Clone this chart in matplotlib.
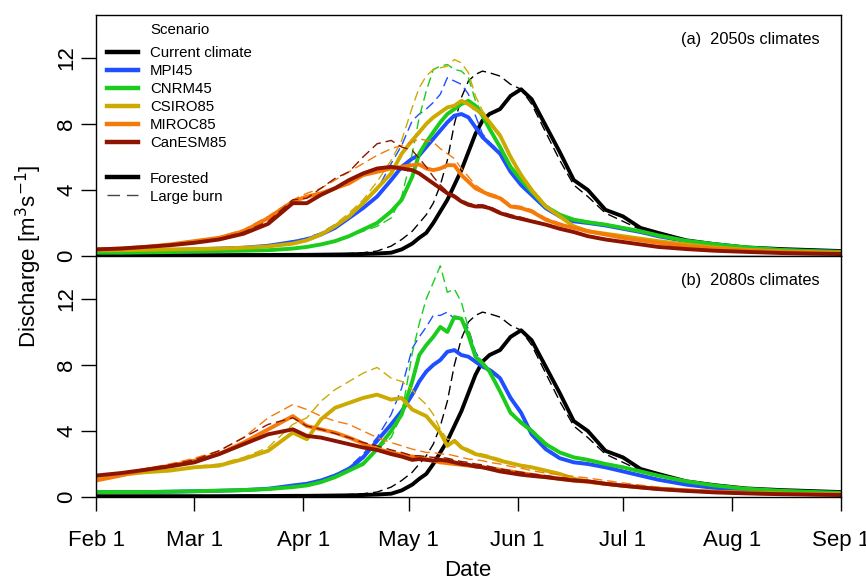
import matplotlib
matplotlib.use("Agg")
import matplotlib.pyplot as plt
from matplotlib.lines import Line2D

# days since Feb 1
days = [0, 7, 14, 21, 28, 35, 42, 49, 56, 60, 64, 68, 72, 76, 80, 84,
        87, 90, 92, 94, 96, 98, 100, 102, 104, 106, 108, 110, 112,
        115, 118, 121, 124, 128, 132, 136, 140,
        145, 150, 155, 160, 168, 176, 185, 195, 205, 212]

tick_days = [0, 28, 59, 89, 120, 150, 181, 212]
tick_labels = ["Feb 1", "Mar 1", "Apr 1", "May 1", "Jun 1", "Jul 1", "Aug 1", "Sep 1"]

scenarios = ["Current climate", "MPI45", "CNRM45", "CSIRO85", "MIROC85", "CanESM85"]
colors = ["#000000", "#1f4fff", "#1ccc1c", "#ccaa00", "#f57a0a", "#8c1400"]

# current climate (same in both panels)
cur_f = [0.05, 0.05, 0.05, 0.05, 0.05, 0.05, 0.06, 0.06, 0.07, 0.07, 0.08, 0.09, 0.1, 0.12, 0.15, 0.2,
         0.4, 0.75, 1.1, 1.4, 2.0, 2.7, 3.4, 4.3, 5.2, 6.3, 7.4, 8.2, 8.6,
         8.9, 9.7, 10.1, 9.5, 7.9, 6.3, 4.6, 4.0,
         2.8, 2.4, 1.7, 1.4, 0.95, 0.72, 0.52, 0.42, 0.35, 0.3]
cur_b = [0.05, 0.05, 0.05, 0.05, 0.05, 0.05, 0.05, 0.06, 0.07, 0.08, 0.1, 0.12, 0.15, 0.2, 0.3, 0.6,
         1.0, 1.5, 2.0, 2.5, 3.2, 4.3, 5.8, 8.0, 9.6, 10.6, 11.0, 11.2, 11.1,
         10.9, 10.4, 10.1, 9.2, 7.5, 5.8, 4.3, 3.6,
         2.6, 2.1, 1.6, 1.3, 0.9, 0.68, 0.5, 0.4, 0.33, 0.3]

# (a) 2050s climates
mpi_f_50 = [0.3, 0.3, 0.32, 0.35, 0.4, 0.45, 0.5, 0.62, 0.85, 1.0, 1.3, 1.7, 2.3, 2.9, 3.6, 4.6,
            5.4, 5.9, 6.1, 6.6, 7.1, 7.6, 8.1, 8.5, 8.6, 8.4, 7.8, 7.2, 6.8,
            6.2, 5.1, 4.3, 3.7, 2.9, 2.4, 2.1, 2.0,
            1.85, 1.65, 1.45, 1.2, 0.9, 0.7, 0.5, 0.36, 0.28, 0.25]
mpi_b_50 = [0.3, 0.3, 0.32, 0.35, 0.4, 0.45, 0.5, 0.65, 0.9, 1.1, 1.4, 1.9, 2.4, 3.2, 4.0, 5.6,
            6.7, 8.2, 8.6, 8.9, 9.3, 9.8, 10.8, 10.6, 10.4, 9.8, 8.5, 7.4, 6.9,
            6.3, 5.2, 4.4, 3.8, 3.0, 2.5, 2.15, 2.05,
            1.9, 1.7, 1.5, 1.25, 0.92, 0.72, 0.52, 0.37, 0.29, 0.25]
cnrm_f_50 = [0.2, 0.2, 0.22, 0.24, 0.27, 0.3, 0.32, 0.35, 0.45, 0.55, 0.7, 0.9, 1.2, 1.6, 2.0, 2.7,
             3.4, 4.8, 6.2, 6.9, 7.5, 8.1, 8.6, 8.9, 9.2, 9.4, 9.1, 8.5, 7.7,
             6.6, 5.4, 4.6, 3.9, 3.0, 2.5, 2.2, 2.05,
             1.9, 1.7, 1.5, 1.25, 0.92, 0.72, 0.52, 0.37, 0.29, 0.25]
cnrm_b_50 = [0.2, 0.2, 0.22, 0.24, 0.27, 0.3, 0.32, 0.35, 0.45, 0.55, 0.7, 0.9, 1.2, 1.5, 1.8, 2.3,
             3.6, 6.2, 8.4, 10.0, 11.3, 11.5, 11.6, 11.3, 11.2, 10.8, 9.4, 8.6, 7.8,
             6.7, 5.5, 4.7, 4.0, 3.1, 2.55, 2.25, 2.1,
             1.95, 1.75, 1.52, 1.27, 0.93, 0.73, 0.53, 0.38, 0.3, 0.26]
csiro_f_50 = [0.35, 0.35, 0.37, 0.4, 0.42, 0.45, 0.5, 0.58, 0.75, 0.95, 1.3, 1.8, 2.4, 3.2, 4.1, 5.0,
              6.2, 7.0, 7.5, 8.0, 8.4, 8.7, 9.0, 9.1, 9.4, 9.2, 8.9, 8.6, 8.1,
              7.3, 6.0, 4.9, 4.0, 3.0, 2.4, 1.8, 1.5,
              1.35, 1.2, 1.05, 0.9, 0.7, 0.52, 0.38, 0.28, 0.22, 0.2]
csiro_b_50 = [0.35, 0.35, 0.37, 0.4, 0.42, 0.46, 0.52, 0.62, 0.8, 1.0, 1.4, 1.9, 2.6, 3.4, 4.5, 5.8,
              7.0, 9.0, 10.2, 10.9, 11.3, 11.4, 11.5, 11.9, 11.7, 11.1, 9.7, 8.8, 8.2,
              7.4, 6.1, 5.0, 4.1, 3.1, 2.45, 1.85, 1.55,
              1.38, 1.22, 1.07, 0.92, 0.71, 0.53, 0.39, 0.29, 0.23, 0.2]
miroc_f_50 = [0.4, 0.45, 0.55, 0.7, 0.9, 1.1, 1.5, 2.3, 3.3, 3.6, 3.8, 4.1, 4.4, 4.9, 5.1, 5.3,
              5.4, 5.5, 5.55, 5.3, 5.2, 5.3, 5.5, 5.5, 4.9, 4.5, 4.1, 3.9, 3.7,
              3.5, 3.0, 2.9, 2.7, 2.2, 1.9, 1.7, 1.5,
              1.3, 1.1, 0.95, 0.8, 0.6, 0.45, 0.33, 0.25, 0.2, 0.18]
miroc_b_50 = [0.4, 0.45, 0.55, 0.72, 0.95, 1.15, 1.6, 2.4, 3.4, 3.8, 4.1, 4.6, 5.1, 5.6, 6.1, 6.5,
              6.7, 6.9, 7.1, 7.0, 6.9, 6.5, 6.2, 5.9, 5.3, 4.8, 4.3, 4.0, 3.8,
              3.6, 3.1, 3.0, 2.8, 2.3, 2.0, 1.75, 1.55,
              1.35, 1.15, 1.0, 0.84, 0.63, 0.47, 0.35, 0.26, 0.21, 0.18]
canesm_f_50 = [0.4, 0.45, 0.55, 0.65, 0.8, 1.0, 1.35, 1.95, 3.2, 3.2, 3.7, 4.1, 4.6, 5.0, 5.3, 5.4,
               5.3, 5.2, 5.0, 4.7, 4.4, 4.1, 3.8, 3.6, 3.3, 3.1, 3.0, 3.0, 2.9,
               2.6, 2.4, 2.25, 2.1, 1.9, 1.65, 1.45, 1.2,
               1.0, 0.85, 0.7, 0.55, 0.42, 0.32, 0.25, 0.18, 0.14, 0.12]
canesm_b_50 = [0.4, 0.45, 0.55, 0.7, 0.85, 1.05, 1.45, 2.1, 3.4, 3.5, 4.1, 4.7, 5.1, 6.0, 6.8, 7.0,
               6.6, 6.4, 5.9, 5.4, 4.8, 4.3, 3.9, 3.7, 3.4, 3.2, 3.1, 3.1, 3.0,
               2.7, 2.5, 2.35, 2.15, 1.95, 1.7, 1.5, 1.25,
               1.05, 0.88, 0.72, 0.57, 0.43, 0.33, 0.26, 0.19, 0.15, 0.13]

# (b) 2080s climates
mpi_f_80 = [0.3, 0.3, 0.3, 0.32, 0.35, 0.38, 0.42, 0.5, 0.7, 0.8, 1.0, 1.3, 1.7, 2.4, 3.4, 4.4,
            5.2, 6.2, 7.0, 7.6, 8.0, 8.3, 8.8, 8.9, 8.6, 8.5, 8.2, 7.9, 7.7,
            7.2, 6.0, 5.1, 3.8, 2.9, 2.35, 2.1, 2.0,
            1.8, 1.55, 1.3, 1.05, 0.75, 0.55, 0.42, 0.33, 0.27, 0.25]
mpi_b_80 = [0.3, 0.3, 0.3, 0.32, 0.35, 0.38, 0.42, 0.52, 0.72, 0.85, 1.05, 1.35, 1.8, 2.6, 3.6, 5.0,
            6.6, 9.0, 9.7, 10.3, 11.0, 11.0, 11.2, 10.8, 10.8, 10.2, 8.8, 8.1, 7.8,
            7.3, 6.1, 5.2, 3.9, 3.0, 2.4, 2.15, 2.05,
            1.85, 1.6, 1.33, 1.07, 0.77, 0.56, 0.43, 0.34, 0.28, 0.25]
cnrm_f_80 = [0.3, 0.3, 0.3, 0.32, 0.35, 0.38, 0.42, 0.48, 0.6, 0.7, 0.9, 1.2, 1.6, 2.0, 2.9, 4.0,
             5.0, 7.0, 8.6, 9.2, 9.7, 10.3, 10.0, 10.9, 10.8, 9.8, 8.5, 8.1, 7.6,
             6.4, 5.1, 4.5, 4.0, 3.2, 2.7, 2.4, 2.25,
             2.0, 1.8, 1.55, 1.3, 0.95, 0.7, 0.5, 0.38, 0.3, 0.25]
cnrm_b_80 = [0.3, 0.3, 0.3, 0.32, 0.35, 0.38, 0.42, 0.5, 0.62, 0.72, 0.92, 1.25, 1.65, 2.1, 2.9, 3.6,
             5.0, 8.7, 10.5, 12.0, 13.0, 14.0, 12.4, 12.6, 11.8, 10.2, 8.7, 8.2, 7.7,
             6.5, 5.2, 4.6, 4.1, 3.3, 2.75, 2.45, 2.3,
             2.05, 1.85, 1.6, 1.33, 0.97, 0.72, 0.52, 0.39, 0.31, 0.26]
csiro_f_80 = [1.2, 1.35, 1.5, 1.6, 1.8, 1.9, 2.3, 2.8, 3.9, 3.5, 4.7, 5.4, 5.7, 6.0, 6.2, 5.9,
              6.0, 5.3, 5.1, 4.9, 4.4, 3.9, 3.1, 3.4, 3.0, 2.8, 2.6, 2.5, 2.4,
              2.2, 2.05, 1.9, 1.8, 1.6, 1.4, 1.1, 0.95,
              0.8, 0.68, 0.58, 0.5, 0.4, 0.32, 0.25, 0.2, 0.17, 0.15]
csiro_b_80 = [1.2, 1.35, 1.5, 1.65, 1.85, 2.0, 2.4, 3.0, 4.4, 4.8, 5.8, 6.5, 7.0, 7.5, 7.85, 7.2,
              7.0, 6.5, 6.0, 5.6, 5.0, 4.1, 3.5, 3.5, 3.1, 2.9, 2.7, 2.6, 2.5,
              2.3, 2.1, 1.95, 1.85, 1.65, 1.45, 1.15, 1.0,
              0.85, 0.72, 0.6, 0.52, 0.41, 0.33, 0.26, 0.2, 0.17, 0.15]
miroc_f_80 = [1.0, 1.3, 1.65, 1.9, 2.2, 2.6, 3.3, 4.1, 4.9, 4.3, 4.1, 3.9, 3.6, 3.25, 2.9, 2.7,
              2.55, 2.45, 2.4, 2.3, 2.2, 2.1, 2.05, 2.0, 1.95, 1.9, 1.85, 1.8, 1.75,
              1.65, 1.55, 1.45, 1.35, 1.22, 1.1, 1.0, 0.92,
              0.8, 0.7, 0.6, 0.5, 0.4, 0.32, 0.25, 0.2, 0.17, 0.15]
miroc_b_80 = [1.0, 1.3, 1.7, 2.0, 2.35, 2.8, 3.6, 4.8, 5.6, 5.3, 4.9, 4.6, 4.4, 4.0, 3.6, 3.3,
              3.1, 2.9, 2.8, 2.7, 2.7, 2.6, 2.6, 2.5, 2.4, 2.3, 2.25, 2.2, 2.1,
              2.0, 1.85, 1.75, 1.6, 1.45, 1.35, 1.25, 1.15,
              1.0, 0.85, 0.72, 0.6, 0.46, 0.36, 0.28, 0.22, 0.18, 0.16]
canesm_f_80 = [1.3, 1.45, 1.65, 1.85, 2.1, 2.6, 3.2, 3.8, 4.1, 3.7, 3.6, 3.4, 3.2, 3.0, 2.85, 2.6,
               2.45, 2.25, 2.3, 2.25, 2.2, 2.25, 2.2, 2.1, 2.0, 1.95, 1.85, 1.8, 1.7,
               1.55, 1.45, 1.35, 1.28, 1.2, 1.1, 1.0, 0.95,
               0.8, 0.68, 0.58, 0.48, 0.37, 0.28, 0.22, 0.17, 0.14, 0.12]
canesm_b_80 = [1.3, 1.45, 1.7, 1.95, 2.25, 2.8, 3.6, 4.4, 4.8, 4.3, 4.1, 3.85, 3.6, 3.3, 3.1, 2.85,
               2.7, 2.5, 2.5, 2.45, 2.4, 2.4, 2.35, 2.25, 2.15, 2.1, 2.0, 1.95, 1.85,
               1.7, 1.6, 1.5, 1.4, 1.3, 1.18, 1.08, 1.0,
               0.85, 0.72, 0.6, 0.5, 0.38, 0.29, 0.23, 0.18, 0.15, 0.13]

panels = [
    ("(a)  2050s climates",
     [(cur_f, cur_b), (mpi_f_50, mpi_b_50), (cnrm_f_50, cnrm_b_50),
      (csiro_f_50, csiro_b_50), (miroc_f_50, miroc_b_50), (canesm_f_50, canesm_b_50)]),
    ("(b)  2080s climates",
     [(cur_f, cur_b), (mpi_f_80, mpi_b_80), (cnrm_f_80, cnrm_b_80),
      (csiro_f_80, csiro_b_80), (miroc_f_80, miroc_b_80), (canesm_f_80, canesm_b_80)]),
]

plt.rcParams['font.family'] = ['Liberation Sans', 'DejaVu Sans']

fig = plt.figure(figsize=(8.66, 5.83), dpi=100)
left, right = 0.111, 0.9708
ax1 = fig.add_axes([left, 0.5609, right - left, 0.9743 - 0.5609])
ax2 = fig.add_axes([left, 0.1475, right - left, 0.5609 - 0.1475], sharex=ax1)

for ax, (label, series) in zip([ax1, ax2], panels):
    for (forested, burn), col in zip(series, colors):
        ax.plot(days, forested, color=col, lw=2.8, solid_joinstyle='round')
        ax.plot(days, burn, color=col, lw=1.0, dashes=(7, 3.5))
    ax.set_xlim(0, 212)
    ax.set_ylim(0, 14.6)
    ax.set_yticks([0, 4, 8, 12])
    ax.tick_params(axis='y', direction='out', length=10.5, width=1, pad=3, labelsize=16)
    for t in ax.get_yticklabels():
        t.set_rotation(90)
        t.set_va('center')
    ax.text(0.972, 0.90, label, transform=ax.transAxes, ha='right', va='center', fontsize=11.8)
    for s in ax.spines.values():
        s.set_linewidth(1.0)

ax1.tick_params(axis='x', bottom=False, labelbottom=False)
ax2.set_xticks(tick_days)
ax2.set_xticklabels(tick_labels)
ax2.tick_params(axis='x', direction='out', length=10, width=1, pad=14, labelsize=16)

handles = [Line2D([], [], color=c, lw=3.2) for c in colors]
handles.append(Line2D([], [], color='none'))
handles.append(Line2D([], [], color='black', lw=3.2))
handles.append(Line2D([], [], color='#444444', lw=1.0, dashes=(9, 5)))
labels = scenarios + ["", "Forested", "Large burn"]
ax1.text(0.0723, 0.938, "Scenario", transform=ax1.transAxes, ha='left', va='center', fontsize=10.8)
ax1.legend(handles, labels, loc='upper left',
           bbox_to_anchor=(0.0141, 0.870), frameon=False, fontsize=10.8,
           handlelength=2.1, handletextpad=0.8,
           labelspacing=0.26, borderpad=0, borderaxespad=0)

fig.text(0.033, 0.561, r"Discharge [m$^3$s$^{-1}$]", rotation=90, ha='center', va='center', fontsize=16)
fig.text(0.5405, 0.022, "Date", ha='center', va='center', fontsize=16)

fig.savefig("out.png", dpi=100)
